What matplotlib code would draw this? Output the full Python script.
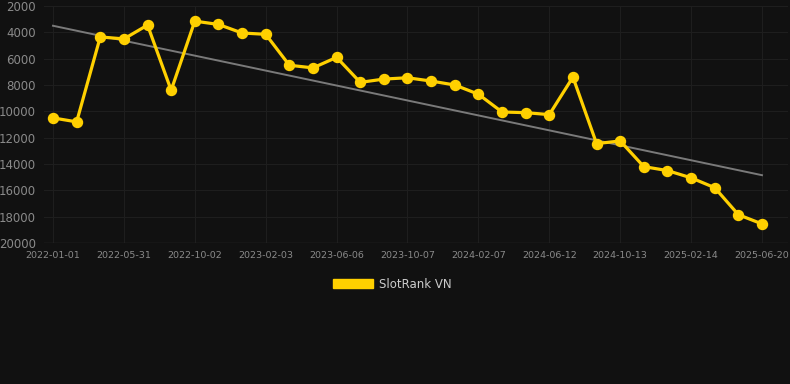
import numpy as np
import matplotlib
matplotlib.use("Agg")
import matplotlib.pyplot as plt
from matplotlib.patches import Patch

tick_labels = ["2022-01-01", "2022-05-31", "2022-10-02", "2023-02-03", "2023-06-06",
               "2023-10-07", "2024-02-07", "2024-06-12", "2024-10-13", "2025-02-14",
               "2025-06-20"]
rank = [10500, 10800, 4350, 4500, 3450, 8400, 3150, 3400, 4050, 4150,
        6500, 6700, 5900, 7800, 7550, 7450, 7700, 8000, 8700, 10050,
        10100, 10250, 7400, 12450, 12250, 14200, 14500, 15050, 15800, 17850,
        18550]
trend_ends = [3500, 14850]

bg = "#111111"
x = np.arange(len(rank))

fig = plt.figure(figsize=(7.9, 3.84), dpi=100, facecolor=bg)
ax = fig.add_axes([44 / 790, 1 - 243 / 384, (788 - 44) / 790, (243 - 6) / 384])
ax.set_facecolor(bg)

ax.plot([x[0], x[-1]], trend_ends, color="#7a7a7a", lw=1.4, zorder=2)
ax.plot(x, rank, color="#ffd000", lw=2.3, marker="o", ms=7.2, zorder=3)

ax.set_xlim(-9 / 23.63, 30 + 26 / 23.63)
ax.set_ylim(20000, 2000)
ax.set_yticks(np.arange(2000, 20001, 2000))
ax.set_xticks(x[::3])
ax.set_xticklabels(tick_labels)

ax.grid(True, color="#1e1e1e", lw=0.8)
for s in ax.spines.values():
    s.set_visible(False)
ax.axhline(20000, color="#2c2c2c", lw=1)
ax.tick_params(axis="y", colors="#8a8a8a", labelsize=8.5, length=0, pad=6)
ax.tick_params(axis="x", colors="#8a8a8a", labelsize=6.8, length=0, pad=6)

fig.legend(handles=[Patch(color="#ffd000")], labels=["SlotRank VN"],
           loc="center", bbox_to_anchor=(392 / 790, 1 - 284 / 384),
           frameon=False, labelcolor="#cccccc", fontsize=8.5,
           handlelength=3.4, handleheight=0.9, handletextpad=0.5)

fig.savefig("out.png", dpi=100, facecolor=bg)
